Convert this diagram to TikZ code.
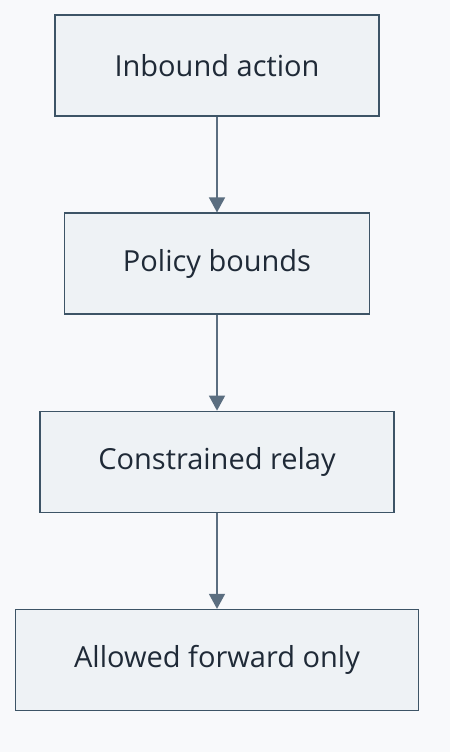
\documentclass[tikz,border=0pt]{standalone}
\usepackage{fontspec}
\setmainfont{Open Sans}
\usepackage{tikz}
\usetikzlibrary{arrows.meta,positioning}

\definecolor{tlo}{HTML}{F8F9FB}
\definecolor{wypelnienie}{HTML}{EEF2F5}
\definecolor{ramka}{HTML}{3D5466}
\definecolor{strzalka}{HTML}{5B6E80}
\definecolor{tekst}{HTML}{1F2A37}

\begin{document}
\begin{tikzpicture}[x=1pt, y=1pt]
\tikzset{
    %czubek strzalki
    >={Triangle[width=16pt,length=15pt]},
    %styl NODa
    krok/.style={
           rectangle,
           line width=1.5pt, draw=ramka,
           fill=wypelnienie,
           text=tekst,
           font=\fontsize{29}{35}\selectfont,
           minimum height=101pt,
           inner sep=0pt,
           text centered}
}
%tlo
\fill[tlo] (0,0) rectangle (450,-752);
\useasboundingbox (0,0) rectangle (450,-752);

%NODy
\node(wejscie) [krok, minimum width=324pt] at (217,-65.5) {Inbound action};
\node(granice) [krok, minimum width=305pt, below=95.7pt of wejscie] {Policy bounds};
\node(przekaz) [krok, minimum width=354pt, below=95.7pt of granice] {Constrained relay};
\node(wyjscie) [krok, minimum width=403pt, below=95.7pt of przekaz] {Allowed forward only};

%Strzalki
\draw[->, line width=1.5pt, draw=strzalka, fill=strzalka] (wejscie) -- (granice);
\draw[->, line width=1.5pt, draw=strzalka, fill=strzalka] (granice) -- (przekaz);
\draw[->, line width=1.5pt, draw=strzalka, fill=strzalka] (przekaz) -- (wyjscie);
\end{tikzpicture}
\end{document}
